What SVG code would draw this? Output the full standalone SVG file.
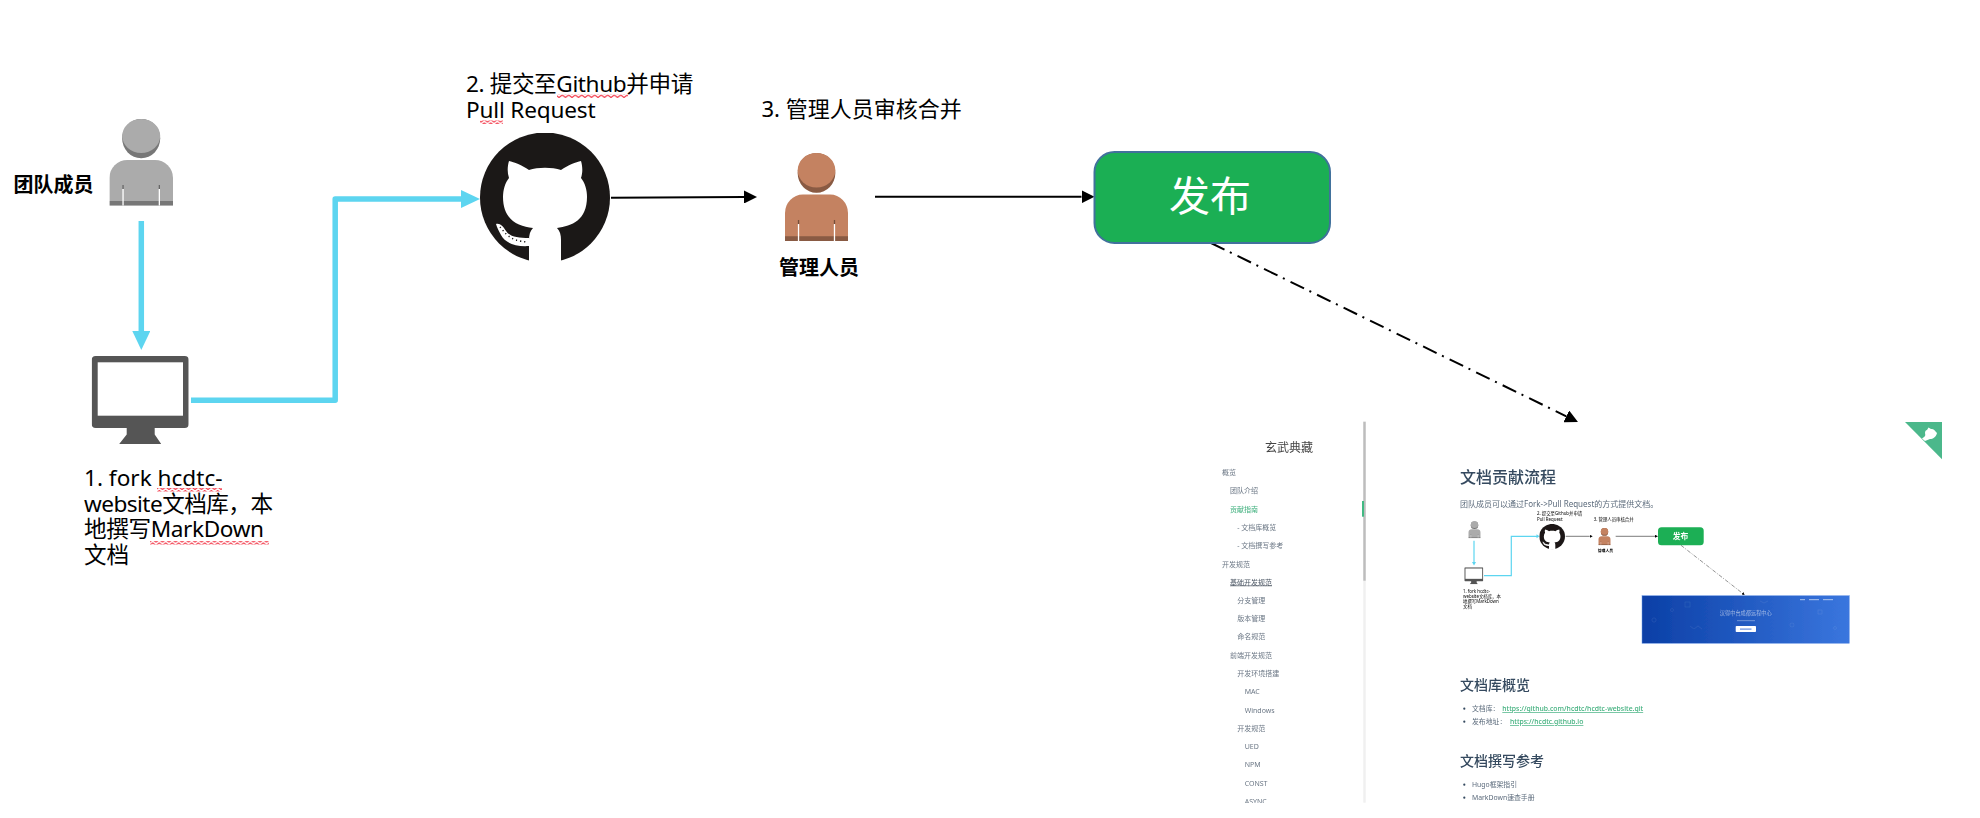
<svg xmlns="http://www.w3.org/2000/svg" width="1980" height="818" viewBox="0 0 1980 818">
<style>
text{font-family:"Noto Sans","Noto Sans CJK SC","Liberation Sans",sans-serif;fill:#000}
.cap{font-size:22.6px}
.cap3{font-size:22px}
.bold{font-size:20px;font-weight:700}
.blue{fill:none;stroke:#5DD5F0;stroke-width:5.5;stroke-linejoin:round}
.blk{fill:none;stroke:#000;stroke-width:2}
.nav{font-size:7px;fill:#6b7785}
.h{fill:#34495e;font-weight:500}
.p{font-size:6.85px;fill:#5c6b7c}
.lnk{font-size:6.85px;fill:#3eaf7c;font-weight:500;text-decoration:underline}
.mini{font-size:4.4px}
.bul{fill:#34495e}
</style>
<defs>
<pattern id="sq" patternUnits="userSpaceOnUse" width="6.5" height="3.5"><path d="M0 3L3.250 .5L6.500 3" fill="none" stroke="#f01428" stroke-width="1"/></pattern>
<marker id="ab" markerUnits="userSpaceOnUse" viewBox="0 0 19 18" markerWidth="19" markerHeight="18" refX="0" refY="9" orient="auto"><path d="M0 0L19 9L0 18z" fill="#5DD5F0"/></marker>
<marker id="ak" markerUnits="userSpaceOnUse" viewBox="0 0 13 13" markerWidth="13" markerHeight="13" refX="0" refY="6.5" orient="auto"><path d="M0 0L13 6.5L0 13z" fill="#000"/></marker>
<marker id="am" markerUnits="userSpaceOnUse" viewBox="0 0 3 3" markerWidth="3" markerHeight="3" refX="0" refY="1.5" orient="auto"><path d="M0 0L3 1.5L0 3z" fill="#000"/></marker>
<symbol id="person" viewBox="0 0 63.6 86.7" preserveAspectRatio="none">
<ellipse cx="31.8" cy="19.6" rx="19" ry="19.6" fill="currentColor"/>
<ellipse cx="31.8" cy="19.6" rx="19" ry="19.6" fill="#000" opacity=".3"/>
<ellipse cx="31.8" cy="17" rx="19" ry="17" fill="currentColor"/>
<path d="M0 86.7V59a18 18 0 0 1 18-18h27.6a18 18 0 0 1 18 18v27.7z" fill="currentColor"/>
<rect y="82" width="63.6" height="4.7" fill="#000" opacity=".3"/>
<rect x="13" y="66" width="1.3" height="4" fill="#000" opacity=".4"/>
<rect x="49.3" y="66" width="1.3" height="4" fill="#000" opacity=".4"/>
<rect x="13" y="70" width="1.3" height="16.7" fill="#fff"/>
<rect x="49.3" y="70" width="1.3" height="16.7" fill="#fff"/>
</symbol>
<symbol id="monitor" viewBox="0 0 97 88" preserveAspectRatio="none">
<path d="M35 70H63V78.5L69.5 88H27.5L35 78.5z" fill="#555"/>
<rect width="97" height="72" rx="4" fill="#555"/>
<rect x="6" y="6.3" width="85.3" height="53.4" fill="#fff"/>
</symbol>
<symbol id="gh" viewBox="480 133 130 130" preserveAspectRatio="none">
<circle cx="545" cy="197.5" r="65" fill="#1B1817"/>
<path d="M509 161C514 162 522 165 529 170C538 167 552 167 561 170C568 165 576 162 581 161C582.500 166 583 172 581 178C585 183 587 190 587 197C587 220 572 226 557 228C560 231 561 235 561 240V263H529V240C529 235 530 231 533 228C518 226 503 220 503 197C503 190 505 183 509 178C507 172 507.500 166 509 161z" fill="#fff"/>
<path d="M496 224C500 223 503 226 506 231C510 237 518 238 529 238V246C516 247 505 243 501 235C499 231 497 228 496 224z" fill="#fff"/>
<path d="M500 227C505 232 508 241 528 242" fill="none" stroke="#1B1817" stroke-width="1.400" stroke-dasharray="1.200 3"/>
</symbol>
<linearGradient id="bn" x1="0" x2="1" y1="0" y2="0"><stop offset="0" stop-color="#0B3FA6"/><stop offset="1" stop-color="#3A76DE"/></linearGradient>
<filter id="soft"><feGaussianBlur stdDeviation=".55"/></filter>
<clipPath id="page"><rect x="1190" y="420" width="790" height="383"/></clipPath>
</defs>

<rect width="1980" height="818" fill="#fff"/>

<g id="connectors">
<path class="blue" d="M141.300 221V331" marker-end="url(#ab)"/>
<path class="blue" d="M191 400.300H335.200V199H461" marker-end="url(#ab)"/>
<path class="blk" d="M611 197.700L744 197" marker-end="url(#ak)"/>
<path class="blk" d="M875 196.800H1081.500" marker-end="url(#ak)"/>
<path class="blk" d="M1211 243L1566.300 416.300" stroke-dasharray="15 6 2 6.500" marker-end="url(#ak)"/>
</g>

<g id="member">
<use href="#person" x="109.400" y="119" width="63.600" height="86.700" color="#ABABAB"/>
<text class="bold" x="13.500" y="192">团队成员</text>
</g>
<g id="workstation">
<use href="#monitor" x="91.700" y="356" width="97" height="88"/>
<text class="cap" x="84" y="485.700">1. fork hcdtc-</text>
<text class="cap" x="84" y="511.700" textLength="189">website文档库，本</text>
<text class="cap" x="84" y="537.300" textLength="180">地撰写MarkDown</text>
<text class="cap" x="84" y="563">文档</text>
<rect x="157" y="488" width="65" height="3.500" fill="url(#sq)"/>
<rect x="150" y="541" width="119" height="3.500" fill="url(#sq)"/>
</g>
<g id="github">
<use href="#gh" x="480" y="133" width="130" height="130"/>
<text class="cap" x="466" y="92" textLength="227.300">2. 提交至Github并申请</text>
<text class="cap" x="466" y="118" textLength="129.600">Pull Request</text>
<rect x="557" y="94.500" width="71" height="3.500" fill="url(#sq)"/>
<rect x="480" y="120.500" width="23" height="3.500" fill="url(#sq)"/>
</g>
<g id="admin">
<use href="#person" x="785" y="153" width="63" height="88" color="#C48261"/>
<text class="cap3" x="761.500" y="117.300">3. 管理人员审核合并</text>
<text class="bold" x="779" y="275">管理人员</text>
</g>
<g id="publish">
<rect x="1094.500" y="152" width="235.500" height="91" rx="20" fill="#1BAF54" stroke="#41719C" stroke-width="2"/>
<text x="1210" y="211" text-anchor="middle" font-size="41" style="fill:#fff">发布</text>
</g>

<g id="site-screenshot" clip-path="url(#page)">
<g filter="url(#soft)">
<rect x="1363.300" y="421.700" width="2.400" height="381" fill="#f0f0f0"/>
<rect x="1363.300" y="421.700" width="2.400" height="159" fill="#bdbdbd"/>
<rect x="1362" y="501" width="2" height="15.700" fill="#42b983"/>
<text x="1289" y="452" text-anchor="middle" font-size="12" style="fill:#444">玄武典藏</text>
<text class="nav" x="1222" y="474.800">概览</text>
<text class="nav" x="1230" y="493.200">团队介绍</text>
<text class="nav" x="1230" y="511.500" style="fill:#3eaf7c">贡献指南</text>
<text class="nav" x="1237.300" y="529.800">- 文档库概览</text>
<text class="nav" x="1237.300" y="548.200">- 文档撰写参考</text>
<text class="nav" x="1222" y="566.500">开发规范</text>
<text class="nav" x="1230" y="584.500" style="text-decoration:underline;fill:#4a5563">基础开发规范</text>
<text class="nav" x="1237.300" y="602.800">分支管理</text>
<text class="nav" x="1237.300" y="621.200">版本管理</text>
<text class="nav" x="1237.300" y="639.200">命名规范</text>
<text class="nav" x="1230" y="657.500">前端开发规范</text>
<text class="nav" x="1237.300" y="675.800">开发环境搭建</text>
<text class="nav" x="1244.700" y="694.200">MAC</text>
<text class="nav" x="1244.700" y="712.500">Windows</text>
<text class="nav" x="1237.300" y="730.500">开发规范</text>
<text class="nav" x="1244.700" y="748.800">UED</text>
<text class="nav" x="1244.700" y="767.200">NPM</text>
<text class="nav" x="1244.700" y="785.500">CONST</text>
<text class="nav" x="1244.700" y="803.800">ASYNC</text>

<text class="h" x="1460" y="482.500" font-size="16">文档贡献流程</text>
<text class="p" x="1460" y="506.800" style="font-size:8px">团队成员可以通过Fork-&gt;Pull Request的方式提供文档。</text>

<use href="#person" x="1468.300" y="521.300" width="12.400" height="17" color="#ABABAB"/>
<path d="M1474 540.700V562" fill="none" stroke="#5DD5F0" stroke-width="1.200"/>
<path d="M1472 562L1476 562L1474 565.500z" fill="#5DD5F0"/>
<use href="#monitor" x="1464.300" y="567.300" width="19" height="17"/>
<path d="M1484 575.700H1511.300V536.300H1537" fill="none" stroke="#5DD5F0" stroke-width="1.200"/>
<path d="M1536.500 534.300L1539.500 536.300L1536.500 538.300z" fill="#5DD5F0"/>
<use href="#gh" x="1539.300" y="524" width="25.700" height="25.300"/>
<path d="M1565.700 536.300H1589.700" fill="none" stroke="#444" stroke-width=".7" marker-end="url(#am)"/>
<use href="#person" x="1598.300" y="528" width="12.400" height="17.300" color="#C48261"/>
<path d="M1615.700 536.300H1655" fill="none" stroke="#444" stroke-width=".7" marker-end="url(#am)"/>
<rect x="1658" y="527.300" width="45.700" height="18" rx="3.500" fill="#1BAF54"/>
<text x="1680.500" y="539" text-anchor="middle" font-size="7.800" font-weight="700" style="fill:#fff">发布</text>
<path d="M1681 545.300L1742.300 593.100" fill="none" stroke="#666" stroke-width=".7" stroke-dasharray="4 1.500 1 1.500" marker-end="url(#am)"/>

<text class="mini" x="1537" y="515.300">2. 提交至Github并申请</text>
<text class="mini" x="1537" y="520.900">Pull Request</text>
<text class="mini" x="1593.700" y="520.600">3. 管理人员审核合并</text>
<text class="mini" x="1597.700" y="551.500" style="font-weight:700;font-size:3.900px">管理人员</text>
<text class="mini" x="1463" y="592.500">1. fork hcdtc-</text>
<text class="mini" x="1463" y="597.500">website文档库，本</text>
<text class="mini" x="1463" y="602.500">地撰写MarkDown</text>
<text class="mini" x="1463" y="607.500">文档</text>

<rect x="1642" y="595.700" width="207.300" height="47.600" fill="url(#bn)" stroke="#6f9ae8" stroke-width=".5"/>
<g fill="none" stroke="#fff" stroke-opacity=".12" stroke-width=".6">
<circle cx="1654" cy="620" r="2"/><rect x="1685" y="602" width="5" height="5"/><circle cx="1672" cy="610" r="1.500"/><path d="M1690 626l4 3 4-3 4 3"/><circle cx="1792" cy="625" r="2"/><rect x="1818" y="610" width="4" height="4"/><path d="M1760 601l4 2 4-2"/><circle cx="1835" cy="628" r="1.500"/>
</g>
<text x="1745.800" y="615" text-anchor="middle" font-size="5.200" style="fill:#fff;fill-opacity:.55">汉得中台成都远程中心</text>
<rect x="1737" y="620" width="18" height="1.200" fill="#fff" opacity=".3"/>
<rect x="1735.700" y="626" width="20.300" height="6" rx=".8" fill="#fff"/>
<rect x="1740" y="628.500" width="11.500" height="1.200" fill="#3a6fd8" opacity=".8"/>
<rect x="1800" y="599" width="5" height="1.200" fill="#fff" opacity=".5"/>
<rect x="1809" y="599" width="10" height="1.200" fill="#fff" opacity=".5"/>
<rect x="1823" y="599" width="10" height="1.200" fill="#fff" opacity=".5"/>

<text class="h" x="1460" y="689.700" font-size="14">文档库概览</text>
<circle class="bul" cx="1464.300" cy="708.700" r="1.100"/>
<text class="p" x="1472" y="711.300">文档库：</text>
<text class="lnk" x="1502.300" y="711.300">https://github.com/hcdtc/hcdtc-website.git</text>
<circle class="bul" cx="1464.300" cy="721.700" r="1.100"/>
<text class="p" x="1472" y="724.300">发布地址：</text>
<text class="lnk" x="1510" y="724.300">https://hcdtc.github.io</text>
<text class="h" x="1460" y="765.700" font-size="14">文档撰写参考</text>
<circle class="bul" cx="1464.300" cy="784.700" r="1.100"/>
<text class="p" x="1472" y="787.300">Hugo框架指引</text>
<circle class="bul" cx="1464.300" cy="797.700" r="1.100"/>
<text class="p" x="1472" y="800.300">MarkDown速查手册</text>
</g>
</g>

<g id="corner-badge">
<path d="M1905 422H1942V459.300z" fill="#4BB88B"/>
<path d="M1922 438.500C1924 437 1926 436.500 1925 433C1925 431 1926 430 1927 430L1928.500 427.500L1931 429C1933 428.500 1935 430 1936 432L1937 433C1936 437 1933 439 1930 439L1925 441z" fill="#fff"/>
</g>
</svg>
